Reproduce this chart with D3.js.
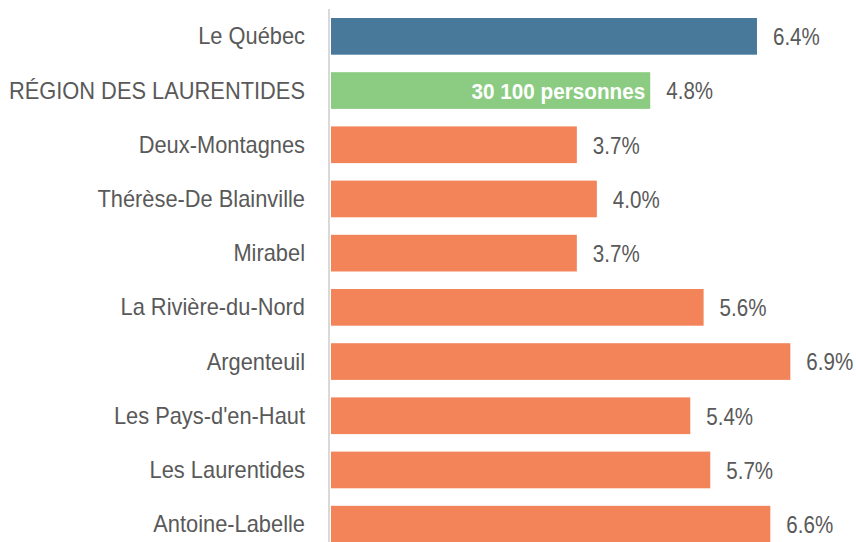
<!DOCTYPE html>
<html>
<head>
<meta charset="utf-8">
<script src="https://cdn.jsdelivr.net/npm/d3@7"></script>
<style>
  body { margin: 0; background: #fff; }
  svg { display: block; }
</style>
</head>
<body>
<div id="chart"></div>
<script>
// Données
const categories = [
    "Le Québec",
    "RÉGION DES LAURENTIDES",
    "Deux-Montagnes",
    "Thérèse-De Blainville",
    "Mirabel",
    "La Rivière-du-Nord",
    "Argenteuil",
    "Les Pays-d'en-Haut",
    "Les Laurentides",
    "Antoine-Labelle"
];
const values = [6.4, 4.8, 3.7, 4.0, 3.7, 5.6, 6.9, 5.4, 5.7, 6.6];
const groups = ["quebec", "region", "mrc", "mrc", "mrc", "mrc", "mrc", "mrc", "mrc", "mrc"];
const insideLabels = ["", "30 100 personnes", "", "", "", "", "", "", "", ""];

const colors = { quebec: "#48799b", region: "#8bcc82", mrc: "#f3845a" };

const width = 856, height = 542;
const font = "'Liberation Sans', Arial, sans-serif";
const narrow = 0.84; // pas de police étroite installée -> compression horizontale

const svg = d3.select("#chart").append("svg")
    .attr("width", width)
    .attr("height", height);

// Echelles
const x = d3.scaleLinear().domain([0, 7]).range([330, 797]);
const y = d3.scaleBand()
    .domain(categories)
    .range([18, 542.5])
    .paddingInner(0.323)
    .paddingOuter(0);

// Ligne d'axe
svg.append("line")
    .attr("x1", 329).attr("x2", 329)
    .attr("y1", 9).attr("y2", height)
    .attr("stroke", "#d9d9d9")
    .attr("stroke-width", 2);

const row = svg.selectAll("g.row")
    .data(categories)
    .join("g")
    .attr("class", "row");

// Barres
row.append("rect")
    .attr("x", x(0) + 1)
    .attr("y", d => y(d))
    .attr("height", y.bandwidth())
    .attr("width", (d, i) => x(values[i]) - x(0) - 1)
    .attr("fill", (d, i) => colors[groups[i]]);

// Libellés des catégories
row.append("text")
    .attr("transform", d => `translate(305,${y(d) + y.bandwidth() / 2}) scale(0.95,1)`)
    .attr("dy", "0.35em")
    .attr("text-anchor", "end")
    .attr("font-family", font)
    .attr("font-size", "23px")
    .attr("fill", "#595959")
    .text(d => d);

// Valeurs
row.append("text")
    .attr("transform", (d, i) => `translate(${x(values[i]) + 16},${y(d) + y.bandwidth() / 2}) scale(${narrow},1)`)
    .attr("dy", "0.36em")
    .attr("font-family", font)
    .attr("font-size", "24.5px")
    .attr("fill", "#595959")
    .text((d, i) => values[i].toFixed(1) + "%");

// Texte dans la barre régionale
row.filter((d, i) => insideLabels[i] !== "")
    .append("text")
    .attr("transform", d => `translate(${x(values[categories.indexOf(d)]) - 5},${y(d) + y.bandwidth() / 2}) scale(0.92,1)`)
    .attr("dy", "0.36em")
    .attr("text-anchor", "end")
    .attr("font-family", font)
    .attr("font-weight", "bold")
    .attr("font-size", "22.5px")
    .attr("fill", "#fff")
    .text(d => insideLabels[categories.indexOf(d)]);
</script>
</body>
</html>
